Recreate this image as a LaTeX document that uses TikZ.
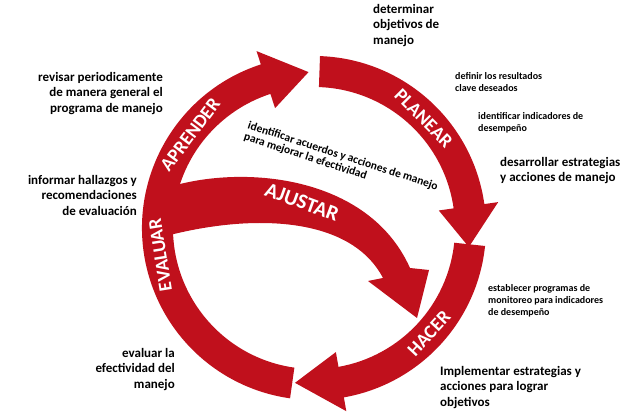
\documentclass[tikz,border=0pt]{standalone}
\usetikzlibrary{calc}
\usepackage{fontspec}
\setmainfont{Carlito}
\begin{document}
\begin{tikzpicture}[x=1pt,y=1pt,
  band/.style={fill={rgb,255:red,192;green,16;blue,28}},
  lab/.style={font=\bfseries\fontsize{13}{15.5}\selectfont,align=left,anchor=north west,inner sep=0pt},
  slab/.style={font=\bfseries\fontsize{10}{12}\selectfont,align=left,anchor=north west,inner sep=0pt},
  rlab/.style={font=\bfseries\fontsize{13}{15.5}\selectfont,align=right,anchor=north east,inner sep=0pt},
  arrlab/.style={font=\bfseries\fontsize{19}{21}\selectfont,text=white,inner sep=0pt}]
\useasboundingbox (0,0) rectangle (640,420);
\coordinate (c) at (314,192);
\def\Ro{172}\def\Ri{141}\def\Rm{156}\def\Ho{186}\def\Hi{126}
\newcommand\cyclearrow[3]{%
 \fill[band] ($(c)+(#1:\Ri)$) arc[start angle=#1,end angle=#2,radius=\Ri]
   -- ($(c)+(#2:\Hi)$) -- ($(c)+(#3:\Rm)$) -- ($(c)+(#2:\Ho)$)
   -- ($(c)+(#2:\Ro)$) arc[start angle=#2,end angle=#1,radius=\Ro] -- cycle;}
% AJUSTAR arrow
\fill[band] (166,232) .. controls (240,256) and (368,246) .. (410,152)
  -- (429,150) -- (417,102) -- (368,139) -- (383,142)
  .. controls (350,205) and (250,206) .. (166,184) -- cycle;
\cyclearrow{88}{8}{-7}
\cyclearrow{-6}{-80}{-97}
\cyclearrow{262}{108}{92}
% arrow labels
\node[arrlab,rotate=53] (aprender) at ($(c)+(143:155)$) {APRENDER};
\node[arrlab,rotate=-45] (planear) at ($(c)+(45:155)$) {PLANEAR};
\node[arrlab,rotate=47] (hacer) at ($(c)+(-42.5:156)$) {HACER};
\node[arrlab,rotate=99] (evaluar) at ($(c)+(190:156)$) {EVALUAR};
\node[arrlab,font=\bfseries\fontsize{21}{23}\selectfont,rotate=-20] (ajustar) at (302,218) {AJUSTAR};
\node[font=\bfseries\fontsize{11.5}{12}\selectfont,align=left,rotate=-18,inner sep=0pt] (inner) at (341,258)
  {identificar acuerdos y acciones de manejo\\para mejorar la efectividad};
% outer labels
\node[lab] (t1) at (373,416) {determinar\\objetivos de\\manejo};
\node[slab] (t2) at (455,348) {definir los resultados\\clave deseados};
\node[slab] (t3) at (478,308) {identificar indicadores de\\desempeño};
\node[lab] (t4) at (500,263) {desarrollar estrategias\\y acciones de manejo};
\node[slab] (t5) at (488,136) {establecer programas de\\monitoreo para indicadores\\de desempeño};
\node[lab] (t6) at (440,54) {Implementar estrategias y\\acciones para lograr\\objetivos};
\node[rlab] (t7) at (163,348) {revisar periodicamente\\de manera general el\\programa de manejo};
\node[rlab] (t8) at (137,245) {informar hallazgos y\\recomendaciones\\de evaluación};
\node[rlab] (t9) at (175,72) {evaluar la\\efectividad del\\manejo};
\end{tikzpicture}
\end{document}
